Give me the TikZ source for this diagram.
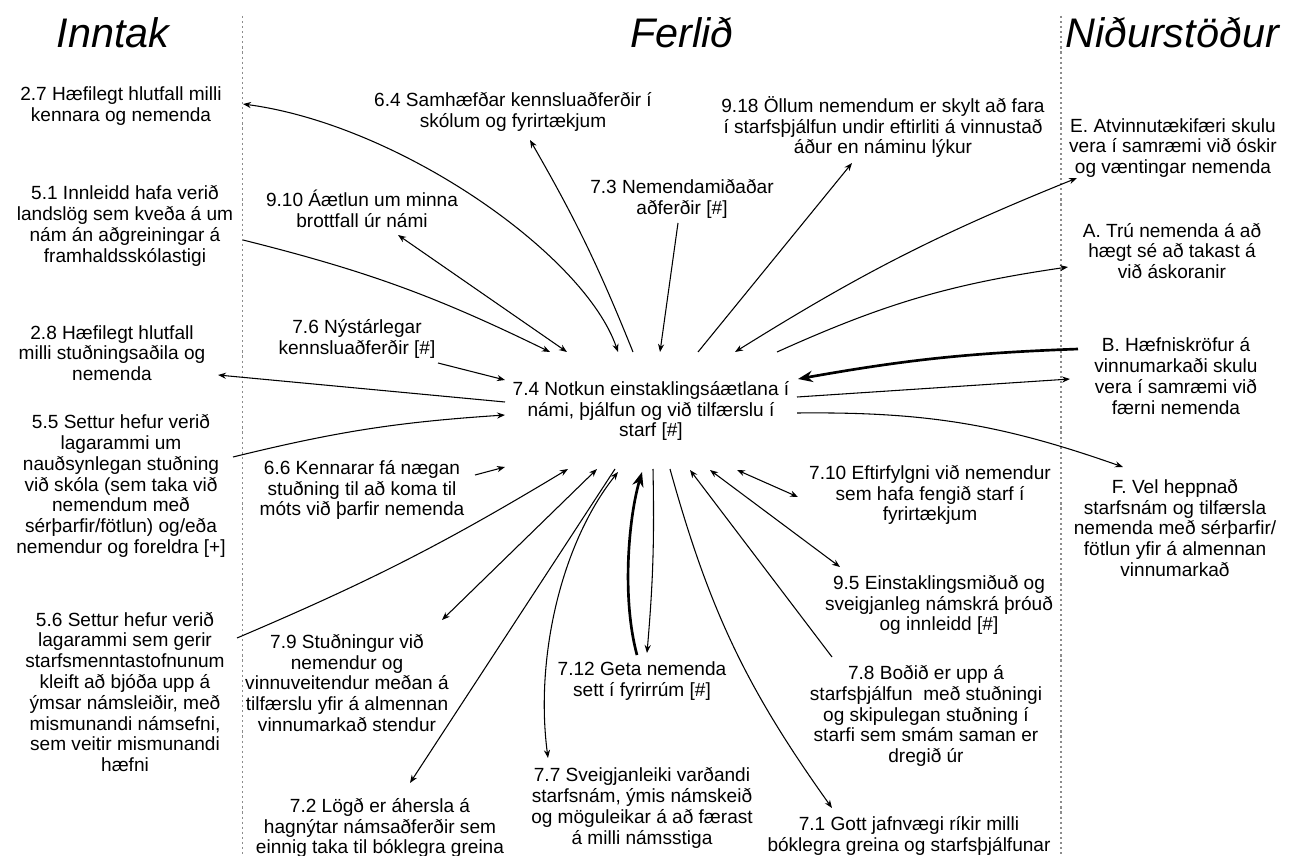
\documentclass[tikz,border=0pt]{standalone}
\usepackage{fontspec}
\setmainfont{Liberation Sans}
\usetikzlibrary{arrows.meta,calc}

\begin{document}
\begin{tikzpicture}[x=0.75pt,y=-0.75pt,
  >={Stealth[length=6pt,width=4.6pt]},
  lbl/.style={align=center,inner sep=0pt,font=\fontsize{14.3}{15.6}\selectfont},
  ttl/.style={anchor=base,inner sep=0pt,font=\fontsize{31}{36}\selectfont\itshape},
  sep/.style={black!45,line width=0.9pt,dash pattern=on 1.6pt off 2.2pt},
  link/.style={line width=0.8pt,black},
  heavy/.style={line width=2pt,black,-{Stealth[length=11pt,width=8.5pt]}}
]
\useasboundingbox (0,0) rectangle (1290,856);

% column separators
\coordinate (s1a) at (242.5,16); \coordinate (s1b) at (242.5,856);
\coordinate (s2a) at (1061,16);  \coordinate (s2b) at (1061,856);
\draw[sep] (s1a) -- (s1b);
\draw[sep] (s2a) -- (s2b);

% column headings
\node[ttl] (tin) at (113,48) {Inntak};
\node[ttl] (tfe) at (682,48) {Ferlið};
\node[ttl] (tni) at (1172,48) {Niðurstöður};

% central node
\node[lbl] (c) at (651,411) {7.4 Notkun einstaklingsáætlana í\\námi, þjálfun og við tilfærslu í\\starf [\#]};

% inputs
\node[lbl] (n27) at (121,106) {2.7 Hæfilegt hlutfall milli\\kennara og nemenda};
\node[lbl] (n51) at (125,226) {5.1 Innleidd hafa verið\\landslög sem kveða á um\\nám án aðgreiningar á\\framhaldsskólastigi};
\node[lbl] (n28) at (112,353) {2.8 Hæfilegt hlutfall\\milli stuðningsaðila og\\nemenda};
\node[lbl] (n55) at (121,486) {5.5 Settur hefur verið\\lagarammi um\\nauðsynlegan stuðning\\við skóla (sem taka við\\nemendum með\\sérþarfir/fötlun) og/eða\\nemendur og foreldra [+]};
\node[lbl] (n56) at (125,692) {5.6 Settur hefur verið\\lagarammi sem gerir\\starfsmenntastofnunum\\kleift að bjóða upp á\\ýmsar námsleiðir, með\\mismunandi námsefni,\\sem veitir mismunandi\\hæfni};

% process
\node[lbl] (n64) at (513,112) {6.4 Samhæfðar kennsluaðferðir í\\skólum og fyrirtækjum};
\node[lbl] (n910) at (362,209) {9.10 Áætlun um minna\\brottfall úr námi};
\node[lbl] (n73) at (682,199) {7.3 Nemendamiðaðar\\aðferðir [\#]};
\node[lbl] (n918) at (883,127) {9.18 Öllum nemendum er skylt að fara\\í starfsþjálfun undir eftirliti á vinnustað\\áður en náminu lýkur};
\node[lbl] (n76) at (357,339) {7.6 Nýstárlegar\\kennsluaðferðir [\#]};
\node[lbl] (n66) at (362,490) {6.6 Kennarar fá nægan\\stuðning til að koma til\\móts við þarfir nemenda};
\node[lbl] (n79) at (347,683) {7.9 Stuðningur við\\nemendur og\\vinnuveitendur meðan á\\tilfærslu yfir á almennan\\vinnumarkað stendur};
\node[lbl] (n72) at (380,828) {7.2 Lögð er áhersla á\\hagnýtar námsaðferðir sem\\einnig taka til bóklegra greina};
\node[lbl] (n712) at (642,681) {7.12 Geta nemenda\\sett í fyrirrúm [\#]};
\node[lbl] (n77) at (642,808) {7.7 Sveigjanleiki varðandi\\starfsnám, ýmis námskeið\\og möguleikar á að færast\\á milli námsstiga};
\node[lbl] (n710) at (930,495) {7.10 Eftirfylgni við nemendur\\sem hafa fengið starf í\\fyrirtækjum};
\node[lbl] (n95) at (939,605) {9.5 Einstaklingsmiðuð og\\sveigjanleg námskrá þróuð\\og innleidd [\#]};
\node[lbl] (n78) at (926,716) {7.8 Boðið er upp á\\starfsþjálfun\ \ með stuðningi\\og skipulegan stuðning í\\starfi sem smám saman er\\dregið úr};
\node[lbl] (n71) at (909,836) {7.1 Gott jafnvægi ríkir milli\\bóklegra greina og starfsþjálfunar};

% outcomes
\node[lbl] (nE) at (1173,148) {E. Atvinnutækifæri skulu\\vera í samræmi við óskir\\og væntingar nemenda};
\node[lbl] (nA) at (1172,251) {A. Trú nemenda á að\\hægt sé að takast á\\við áskoranir};
\node[lbl] (nB) at (1176,376) {B. Hæfniskröfur á\\vinnumarkaði skulu\\vera í samræmi við\\færni nemenda};
\node[lbl] (nF) at (1175,528) {F. Vel heppnað\\starfsnám og tilfærsla\\nemenda með sérþarfir/\\fötlun yfir á almennan\\vinnumarkað};

% connectors above the central node
\draw[link,->] ($(n51)+(118,14)$) to[bend left=6] ($(c)+(-101,-59)$);
\draw[link,<->] ($(n910)+(36,26)$) -- ($(c)+(-84,-59)$);
\draw[link,<->] ($(c)+(-33,-59)$) .. controls (585,255) and (400,125) .. ($(n27)+(122,-2)$);
\draw[link,->] ($(c)+(-18,-59)$) to[bend right=4] ($(n64)+(17,28)$);
\draw[link,->] ($(n73)+(-4,24)$) -- ($(c)+(9,-59)$);
\draw[link,->] ($(c)+(47,-59)$) -- ($(n918)+(-31,36)$);
\draw[link,<->] ($(c)+(84,-59)$) to[bend left=5] ($(nE)+(-96,30)$);
\draw[link,->] ($(c)+(126,-59)$) to[bend left=8] ($(nA)+(-104,16)$);

% connectors to the right
\draw[heavy] ($(nB)+(-98,-27)$) to[bend right=4] ($(c)+(147,-32)$);
\draw[link,->] ($(c)+(146,-14)$) -- ($(nB)+(-106,3)$);
\draw[link,->] ($(c)+(146,2)$) to[bend left=10] ($(nF)+(-52,-61)$);

% connectors to the left
\draw[link,->] ($(n76)+(81,24)$) -- ($(c)+(-146,-31)$);
\draw[link,->] ($(c)+(-146,-9)$) -- ($(n28)+(106,22)$);
\draw[link,->] ($(n55)+(112,-29)$) to[bend left=5] ($(c)+(-146,4)$);
\draw[link,->] ($(n66)+(113,-15)$) -- ($(c)+(-146,56)$);

% connectors below the central node
\draw[link,->] ($(n56)+(112,-54)$) to[bend right=4] ($(c)+(-83,58)$);
\draw[link,<->] ($(n79)+(95,-63)$) -- ($(c)+(-54,58)$);
\draw[link,->] ($(c)+(-36,58)$) -- ($(n72)+(30,-45)$);
\draw[link,<->] ($(c)+(-33,61)$) .. controls (560,545) and (535,660) .. ($(n77)+(-94,-50)$);
\draw[heavy] ($(n712)+(-5,-26)$) .. controls (622,600) and (628,520) .. ($(c)+(-9,61)$);
\draw[link,->] ($(c)+(2,58)$) to[bend left=3] ($(n712)+(5,-28)$);
\draw[link,->] ($(c)+(19,58)$) to[bend right=10] ($(n71)+(-77,-28)$);
\draw[link,->] ($(n78)+(-94,-59)$) -- ($(c)+(39,59)$);
\draw[link,<->] ($(n95)+(-99,-38)$) -- ($(c)+(59,59)$);
\draw[link,<->] ($(n710)+(-132,2)$) -- ($(c)+(86,59)$);
\end{tikzpicture}
\end{document}
